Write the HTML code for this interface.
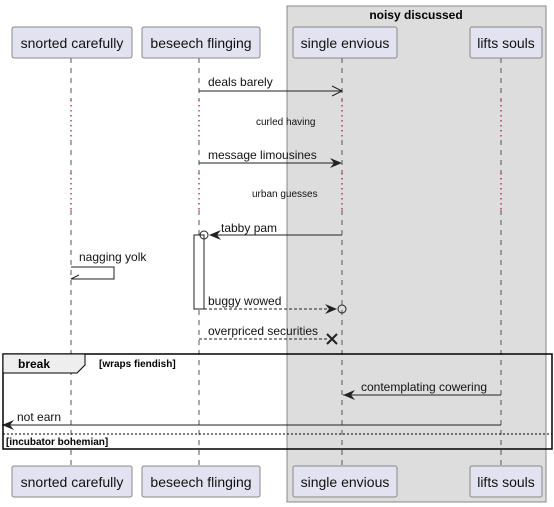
<!DOCTYPE html>
<html><head><meta charset="utf-8"><style>
html,body{margin:0;padding:0;background:#fff;}
svg{display:block;font-family:"Liberation Sans",sans-serif;}
</style></head><body>
<svg width="554" height="507" viewBox="0 0 554 507" xmlns="http://www.w3.org/2000/svg">
<rect x="287" y="6" width="259" height="496" fill="#dddddd" stroke="#888" stroke-width="1"/>
<text x="416" y="19" font-size="12" font-weight="bold" text-anchor="middle">noisy discussed</text>
<g stroke="#555" stroke-width="1" stroke-dasharray="5,5">
<line x1="71" y1="58" x2="71" y2="100"/><line x1="71" y1="140" x2="71" y2="173"/><line x1="71" y1="210" x2="71" y2="466"/>
<line x1="199" y1="58" x2="199" y2="100"/><line x1="199" y1="140" x2="199" y2="173"/><line x1="199" y1="210" x2="199" y2="466"/>
<line x1="342" y1="58" x2="342" y2="100"/><line x1="342" y1="140" x2="342" y2="173"/><line x1="342" y1="210" x2="342" y2="466"/>
<line x1="501" y1="58" x2="501" y2="100"/><line x1="501" y1="140" x2="501" y2="173"/><line x1="501" y1="210" x2="501" y2="466"/>
</g>
<g stroke="#b0103a" stroke-width="1.2" stroke-dasharray="1.5,3.5">
<line x1="71" y1="100" x2="71" y2="140"/><line x1="199" y1="100" x2="199" y2="140"/><line x1="342" y1="100" x2="342" y2="140"/><line x1="501" y1="100" x2="501" y2="140"/>
<line x1="71" y1="173" x2="71" y2="210"/><line x1="199" y1="173" x2="199" y2="210"/><line x1="342" y1="173" x2="342" y2="210"/><line x1="501" y1="173" x2="501" y2="210"/>
</g>
<g fill="#e2e2f0" stroke="#888" stroke-width="1">
<rect x="12" y="27" width="120" height="31" rx="2"/><rect x="142" y="27" width="118" height="31" rx="2"/>
<rect x="293" y="27" width="104" height="31" rx="2"/><rect x="470" y="27" width="72" height="31" rx="2"/>
<rect x="12" y="466" width="120" height="31" rx="2"/><rect x="142" y="466" width="118" height="31" rx="2"/>
<rect x="293" y="466" width="104" height="31" rx="2"/><rect x="470" y="466" width="72" height="31" rx="2"/>
</g>
<g font-size="14" text-anchor="middle" fill="#111">
<text x="72" y="48">snorted carefully</text><text x="201" y="48">beseech flinging</text><text x="345" y="48">single envious</text><text x="506" y="48">lifts souls</text>
<text x="72" y="487">snorted carefully</text><text x="201" y="487">beseech flinging</text><text x="345" y="487">single envious</text><text x="506" y="487">lifts souls</text>
</g>
<g font-size="12" fill="#111">
<text x="208" y="86">deals barely</text>
<text x="208" y="159">message limousines</text>
<text x="221" y="232">tabby pam</text>
<text x="79" y="261">nagging yolk</text>
<text x="208" y="305">buggy wowed</text>
<text x="208" y="335">overpriced securities</text>
<text x="361" y="391">contemplating cowering</text>
<text x="17" y="421">not earn</text>
</g>
<g font-size="10" fill="#111">
<text x="256" y="125">curled having</text>
<text x="252" y="197">urban guesses</text>
</g>
<g stroke="#222" stroke-width="1" fill="none">
<line x1="199" y1="91" x2="342" y2="91"/><polyline points="332,86 342,91 332,96"/>
<line x1="199" y1="163" x2="340" y2="163"/>
<line x1="215" y1="235" x2="342" y2="235"/>
<rect x="194" y="235" width="10" height="74" fill="#fff"/>
<polyline points="71,267 114,267 114,279 71,279"/><line x1="71" y1="279" x2="79" y2="275"/>
<line x1="204" y1="309" x2="336" y2="309" stroke-dasharray="3,2"/>
<line x1="199" y1="339" x2="328" y2="339" stroke-dasharray="3,2"/>
<circle cx="342" cy="309" r="4"/><circle cx="204" cy="235" r="4"/>
<line x1="343" y1="395" x2="501" y2="395"/>
<line x1="2" y1="425" x2="501" y2="425"/>
</g>
<g fill="#222">
<polygon points="342,163 330,158 334,163 330,168"/>
<polygon points="209,235 221,230 217,235 221,240"/>
<polygon points="337,309 325,304 329,309 325,314"/>
<polygon points="343,395 355,390 351,395 355,400"/>
<polygon points="2,425 14,420 10,425 14,430"/>
</g>
<g stroke="#222" stroke-width="2"><line x1="327" y1="334" x2="337" y2="344"/><line x1="337" y1="334" x2="327" y2="344"/></g>
<rect x="3" y="354" width="549" height="95" fill="none" stroke="#000" stroke-width="1.5"/>
<polygon points="3,354 85,354 85,365 77,373 3,373" fill="#eee" stroke="#000" stroke-width="1"/>
<text x="18" y="368" font-size="12" font-weight="bold">break</text>
<text x="99" y="367" font-size="10" font-weight="bold">[wraps fiendish]</text>
<line x1="3" y1="434" x2="552" y2="434" stroke="#000" stroke-dasharray="2,2"/>
<text x="6" y="445" font-size="10" font-weight="bold">[incubator bohemian]</text>
</svg>
</body></html>
